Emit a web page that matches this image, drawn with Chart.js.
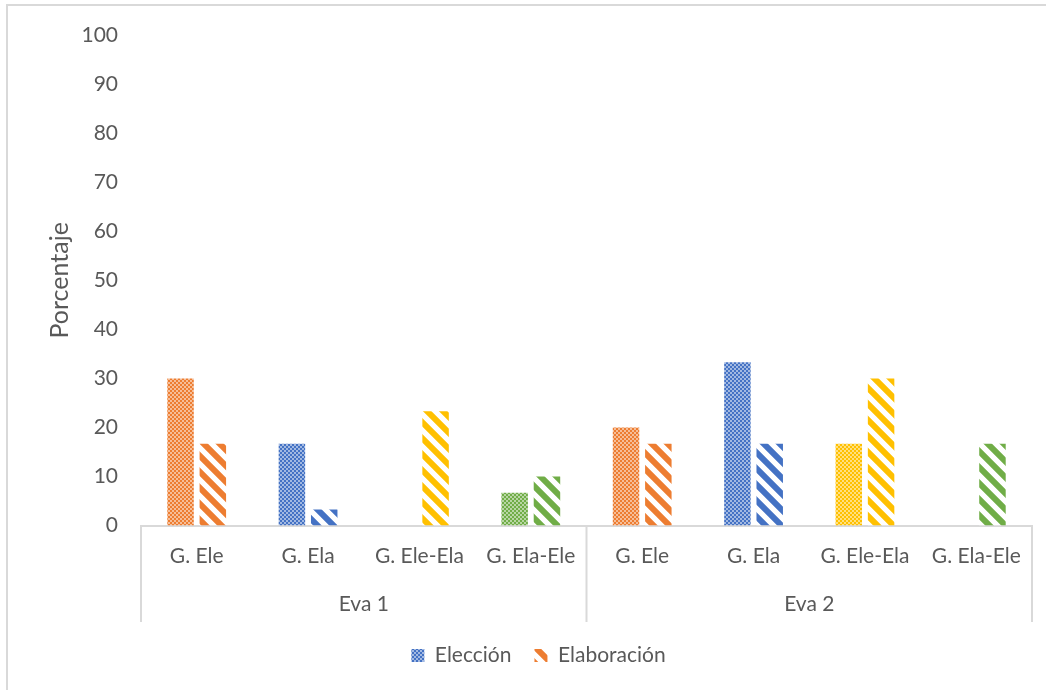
<!DOCTYPE html>
<html>
<head>
<meta charset="utf-8">
<script src="https://cdn.jsdelivr.net/npm/chart.js@4.4.1/dist/chart.umd.min.js"></script>
<style>
  html, body { margin: 0; padding: 0; background: #fff; overflow: hidden; }
  canvas { display: block; }
</style>
</head>
<body>
<canvas id="chart" width="1046" height="690"></canvas>
<script>
// datos
const categories = ['G. Ele', 'G. Ela', 'G. Ele-Ela', 'G. Ela-Ele', 'G. Ele', 'G. Ela', 'G. Ele-Ela', 'G. Ela-Ele'];
const groups = ['Eva 1', 'Eva 2'];
const eleccion = [30, 16.7, 0, 6.7, 20, 33.3, 16.7, 0];
const elaboracion = [16.7, 3.3, 23.3, 10, 16.7, 16.7, 30, 16.7];
const yTicks = [0, 10, 20, 30, 40, 50, 60, 70, 80, 90, 100];
const groupColors = ['#ED7D31', '#4472C4', '#FFC000', '#70AD47'];

const textColor = '#595959';
const lineColor = '#d9d9d9';
const fontFamily = 'Lato, "Liberation Sans", sans-serif';

// patrones
function lighten(hex, amt) {
    const n = parseInt(hex.slice(1), 16);
    const r = (n >> 16) & 255, g = (n >> 8) & 255, b = n & 255;
    const f = c => Math.round(c + (255 - c) * amt);
    return 'rgb(' + f(r) + ',' + f(g) + ',' + f(b) + ')';
}

function checkerPattern(color) {
    const tile = document.createElement('canvas');
    tile.width = 4; tile.height = 4;
    const c = tile.getContext('2d');
    c.fillStyle = lighten(color, 0.5);
    c.fillRect(0, 0, 4, 4);
    c.fillStyle = color;
    c.fillRect(0, 0, 2, 2);
    c.fillRect(2, 2, 2, 2);
    return c.createPattern(tile, 'repeat');
}

function stripePattern(color) {
    const s = 16;
    const tile = document.createElement('canvas');
    tile.width = s; tile.height = s;
    const c = tile.getContext('2d');
    c.fillStyle = '#fff';
    c.fillRect(0, 0, s, s);
    c.strokeStyle = color;
    c.lineWidth = 6;
    c.beginPath();
    c.moveTo(-4, -4); c.lineTo(s + 4, s + 4);
    c.moveTo(-4, s - 4); c.lineTo(4, s + 4);
    c.moveTo(s - 4, -4); c.lineTo(s + 4, 4);
    c.stroke();
    return c.createPattern(tile, 'repeat');
}

const checkers = groupColors.map(checkerPattern);
const stripes = groupColors.map(stripePattern);

// marco exterior y separadores del eje x
const decorPlugin = {
    id: 'decor',
    beforeDraw(chart) {
        const ctx = chart.ctx;
        ctx.save();
        ctx.strokeStyle = lineColor;
        ctx.lineWidth = 2;
        ctx.strokeRect(7, 5, chart.width + 20, chart.height + 20);
        ctx.restore();
    },
    afterDraw(chart) {
        const x = chart.scales.x;
        const x2 = chart.scales.x2;
        const ctx = chart.ctx;
        const xs = [x.left, (x.left + x.right) / 2, x.right];
        ctx.save();
        ctx.strokeStyle = lineColor;
        ctx.lineWidth = 2;
        ctx.beginPath();
        xs.forEach(px => {
            ctx.moveTo(px, x.top);
            ctx.lineTo(px, x2.bottom);
        });
        ctx.stroke();
        ctx.restore();
    }
};

const ctx = document.getElementById('chart');
new Chart(ctx, {
    type: 'bar',
    data: {
        labels: categories,
        datasets: [{
            label: 'Elección',
            data: eleccion,
            backgroundColor: categories.map((c, i) => checkers[i % 4]),
            borderWidth: 0,
            barPercentage: 0.82,
            categoryPercentage: 0.58
        }, {
            label: 'Elaboración',
            data: elaboracion,
            backgroundColor: categories.map((c, i) => stripes[i % 4]),
            borderWidth: 0,
            barPercentage: 0.82,
            categoryPercentage: 0.58
        }]
    },
    options: {
        responsive: false,
        animation: false,
        devicePixelRatio: 1,
        layout: {
            padding: { top: 35, left: 45, right: 14, bottom: 14 }
        },
        scales: {
            y: {
                min: 0,
                max: 100,
                afterBuildTicks: axis => { axis.ticks = yTicks.map(v => ({ value: v })); },
                afterFit: axis => { axis.width = 96; },
                grid: { display: false },
                border: { display: false },
                ticks: {
                    color: textColor,
                    font: { family: fontFamily, size: 21 },
                    padding: 15
                },
                title: {
                    display: true,
                    text: 'Porcentaje',
                    color: textColor,
                    font: { family: fontFamily, size: 25 },
                    padding: { top: 0, bottom: 0 }
                }
            },
            x: {
                grid: { display: false },
                border: { display: true, color: lineColor, width: 2 },
                ticks: {
                    color: textColor,
                    font: { family: fontFamily, size: 21 },
                    padding: 10,
                    maxRotation: 0,
                    autoSkip: false
                }
            },
            x2: {
                type: 'category',
                position: 'bottom',
                labels: groups,
                offset: true,
                grid: { display: false },
                border: { display: false },
                ticks: {
                    color: textColor,
                    font: { family: fontFamily, size: 21 },
                    padding: 5
                }
            }
        },
        plugins: {
            legend: {
                position: 'bottom',
                labels: {
                    color: textColor,
                    font: { family: fontFamily, size: 21 },
                    boxWidth: 13,
                    boxHeight: 13,
                    padding: 23,
                    generateLabels: chart => chart.data.datasets.map((ds, i) => ({
                        text: ds.label,
                        fillStyle: i === 0 ? checkers[1] : stripes[0],
                        strokeStyle: 'rgba(0,0,0,0)',
                        lineWidth: 0,
                        fontColor: textColor,
                        hidden: !chart.isDatasetVisible(i),
                        datasetIndex: i
                    }))
                }
            },
            tooltip: { enabled: false }
        }
    },
    plugins: [decorPlugin]
});
</script>
</body>
</html>
